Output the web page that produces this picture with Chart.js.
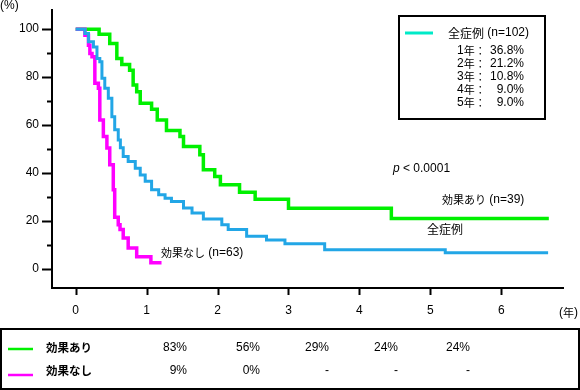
<!DOCTYPE html>
<html lang="ja">
<head>
<meta charset="utf-8">
<title>生存曲線</title>
<script src="https://cdn.jsdelivr.net/npm/chart.js@4.4.1/dist/chart.umd.min.js"></script>
<style>
  html, body { margin: 0; padding: 0; background: #fff; }
  #chart { display: block; }
</style>
</head>
<body>
<canvas id="chart" width="580" height="390"></canvas>
<script>
// 全症例 (n=102): 年, 生存率(%)
const allTimes = [0, 0.11, 0.13, 0.18, 0.25, 0.30, 0.34, 0.37, 0.41, 0.46, 0.51, 0.55, 0.60, 0.63, 0.67, 0.74, 0.84, 0.91, 0.98, 1.07, 1.17, 1.26, 1.35, 1.52, 1.64, 1.80, 2.06, 2.15, 2.41, 2.69, 2.95, 3.51, 5.21, 6.66];
const allSurv = [100, 100, 98.2, 94.7, 92.6, 87.8, 86.4, 79.5, 75.3, 71.2, 63.5, 58, 53.8, 50.5, 46.9, 44.8, 42, 39.2, 36.5, 33, 30.9, 29.5, 28.1, 25.4, 23.3, 20.8, 18.4, 16.4, 13.6, 12, 10.5, 8.0, 6.7, 6.7];

// 効果あり (n=39)
const effTimes = [0, 0.33, 0.48, 0.58, 0.65, 0.76, 0.81, 0.86, 0.91, 1.07, 1.15, 1.28, 1.47, 1.52, 1.75, 1.80, 1.96, 2.04, 2.31, 2.53, 3.0, 4.45, 6.67];
const effSurv = [100, 97.9, 94, 87.8, 85.3, 82.9, 76.7, 73.9, 69.1, 66.6, 62.1, 57.7, 55.2, 51, 47.6, 41.3, 38.5, 35.1, 32, 29, 25.3, 21, 21];

// 効果なし (n=63)
const noneTimes = [0, 0.13, 0.18, 0.20, 0.23, 0.27, 0.32, 0.34, 0.39, 0.44, 0.48, 0.53, 0.55, 0.60, 0.625, 0.67, 0.74, 0.86, 1.06, 1.21];
const noneSurv = [100, 97.5, 93.3, 89.9, 88.5, 77.4, 75.3, 62.1, 55.2, 50.4, 43.4, 33, 21.5, 18.4, 16.4, 12.9, 8.7, 5.0, 2.5, 2.5];

const xTicks = [0, 1, 2, 3, 4, 5, 6];
const yMajorTicks = [0, 20, 40, 60, 80, 100];
const yMinorTicks = [10, 30, 50, 70, 90];

// 凡例の年次生存率
const summaryYears = ['1年：', '2年：', '3年：', '4年：', '5年：'];
const summaryRates = ['36.8%', '21.2%', '10.8%', '9.0%', '9.0%'];

// 下の表
const tableRows = ['効果あり', '効果なし'];
const effRates = ['83%', '56%', '29%', '24%', '24%'];
const noneRates = ['9%', '0%', '-', '-', '-'];

const GREEN = '#00f000';
const BLUE = '#22a6e6';
const MAGENTA = '#ff00ff';
const AQUA = '#00eac8';

const LATIN = '"Liberation Sans", Arial, sans-serif';
const JP = '"Noto Sans CJK JP", sans-serif';
const JP_RE = /[\u3000-\u30ff\u4e00-\u9fff\uff00-\uffef]/;

function toPoints(times, surv) {
  return times.map((t, i) => ({ x: t, y: surv[i] }));
}

// 日本語と英数字でフォントを分けて描く
function drawText(ctx, str, x, y, align, opt) {
  opt = opt || {};
  const runs = str.match(/[\u3000-\u30ff\u4e00-\u9fff\uff00-\uffef]+|[^\u3000-\u30ff\u4e00-\u9fff\uff00-\uffef]+/g) || [];
  const fontFor = (r) => JP_RE.test(r)
    ? `${opt.jpBold ? 'bold ' : ''}${opt.jpSize || 11}px ${JP}`
    : `${opt.italic ? 'italic ' : ''}${opt.size || 12}px ${LATIN}`;
  let w = 0;
  runs.forEach((r) => { ctx.font = fontFor(r); w += ctx.measureText(r).width; });
  let cx = align === 'right' ? x - w : align === 'center' ? x - w / 2 : x;
  ctx.textAlign = 'left';
  ctx.textBaseline = 'middle';
  ctx.fillStyle = '#000';
  runs.forEach((r) => {
    ctx.font = fontFor(r);
    ctx.fillText(r, cx, y);
    cx += ctx.measureText(r).width;
  });
}

function line(ctx, x1, y1, x2, y2) {
  ctx.beginPath();
  ctx.moveTo(x1, y1);
  ctx.lineTo(x2, y2);
  ctx.stroke();
}

const overlay = {
  id: 'overlay',
  afterDraw(chart) {
    const ctx = chart.ctx;
    const xs = chart.scales.x;
    const ys = chart.scales.y;
    const ax = chart.chartArea.left;
    const ay = chart.chartArea.bottom;
    ctx.save();

    // 目盛り
    ctx.strokeStyle = '#000';
    ctx.lineWidth = 2;
    yMajorTicks.forEach((v) => {
      const py = Math.round(ys.getPixelForValue(v)) + 0.5;
      line(ctx, ax - 10, py, ax, py);
    });
    yMinorTicks.forEach((v) => {
      const py = Math.round(ys.getPixelForValue(v)) + 0.5;
      line(ctx, ax - 5, py, ax, py);
    });
    xTicks.forEach((v) => {
      const px = Math.round(xs.getPixelForValue(v)) + 0.5;
      line(ctx, px, ay, px, ay + 7);
    });

    // 単位
    drawText(ctx, '(%)', 0, 6, 'left');
    drawText(ctx, '(年)', 559, 313, 'left');

    // 注記
    ctx.font = `italic 12px ${LATIN}`;
    drawText(ctx, 'p', 393, 169, 'left', { italic: true });
    drawText(ctx, ' < 0.0001', 393 + ctx.measureText('p').width, 169, 'left');
    drawText(ctx, '効果あり (n=39)', 442, 200, 'left');
    drawText(ctx, '全症例', 427, 229, 'left', { jpSize: 12 });
    drawText(ctx, '効果なし (n=63)', 161, 253, 'left');

    // 凡例ボックス
    ctx.lineWidth = 2;
    ctx.strokeStyle = '#000';
    ctx.strokeRect(399, 16, 146, 103);
    ctx.strokeStyle = AQUA;
    ctx.lineWidth = 3;
    line(ctx, 405, 33, 433, 33);
    drawText(ctx, '全症例 (n=102)', 448, 33, 'left', { jpSize: 12 });
    summaryYears.forEach((lab, i) => {
      const py = 51 + i * 13;
      drawText(ctx, lab, 457, py, 'left');
      drawText(ctx, summaryRates[i], 524, py, 'right');
    });

    // 下の表
    ctx.strokeStyle = '#000';
    ctx.lineWidth = 2;
    ctx.strokeRect(1, 329, 578, 60);
    const rowY = [348, 371];
    const lineY = [349, 375];
    const colRight = [187, 260, 329, 398, 470];
    const rowColors = [GREEN, MAGENTA];
    const rowRates = [effRates, noneRates];
    tableRows.forEach((lab, r) => {
      ctx.strokeStyle = rowColors[r];
      ctx.lineWidth = 2.5;
      line(ctx, 8, lineY[r], 33, lineY[r]);
      drawText(ctx, lab, 46, rowY[r], 'left', { jpBold: true, jpSize: 11.5 });
      rowRates[r].forEach((v, c) => {
        drawText(ctx, v, colRight[c], rowY[r], 'right');
      });
    });

    ctx.restore();
  }
};

const tickFont = { family: LATIN, size: 12 };

new Chart(document.getElementById('chart'), {
  type: 'line',
  data: {
    datasets: [
      {
        label: '全症例',
        data: toPoints(allTimes, allSurv),
        borderColor: BLUE,
        borderWidth: 3,
        stepped: true,
        pointRadius: 0,
        fill: false,
        order: 0,
      },
      {
        label: '効果なし',
        data: toPoints(noneTimes, noneSurv),
        borderColor: MAGENTA,
        borderWidth: 3.5,
        stepped: true,
        pointRadius: 0,
        fill: false,
        order: 1,
      },
      {
        label: '効果あり',
        data: toPoints(effTimes, effSurv),
        borderColor: GREEN,
        borderWidth: 3.5,
        stepped: true,
        pointRadius: 0,
        fill: false,
        order: 2,
      },
    ],
  },
  options: {
    responsive: false,
    animation: false,
    layout: { padding: { left: 0, top: 10, right: 17, bottom: 0 } },
    plugins: {
      legend: { display: false },
      tooltip: { enabled: false },
    },
    scales: {
      x: {
        type: 'linear',
        min: -0.334,
        max: 6.87,
        afterBuildTicks: (s) => { s.ticks = xTicks.map((v) => ({ value: v })); },
        afterFit: (s) => {
          s.height = 102;
          s.paddingLeft = 0;
          s.paddingRight = 0;
        },
        ticks: { font: tickFont, color: '#000', padding: 15, maxRotation: 0 },
        grid: { display: false, drawTicks: false },
        border: { display: true, color: '#000', width: 2 },
      },
      y: {
        min: -8,
        max: 108,
        afterBuildTicks: (s) => { s.ticks = yMajorTicks.map((v) => ({ value: v })); },
        afterFit: (s) => {
          s.width = 52;
          s.paddingTop = 0;
          s.paddingBottom = 0;
        },
        ticks: { font: tickFont, color: '#000', padding: 13 },
        grid: { display: false, drawTicks: false },
        border: { display: true, color: '#000', width: 2 },
      },
    },
  },
  plugins: [overlay],
});
</script>
</body>
</html>
